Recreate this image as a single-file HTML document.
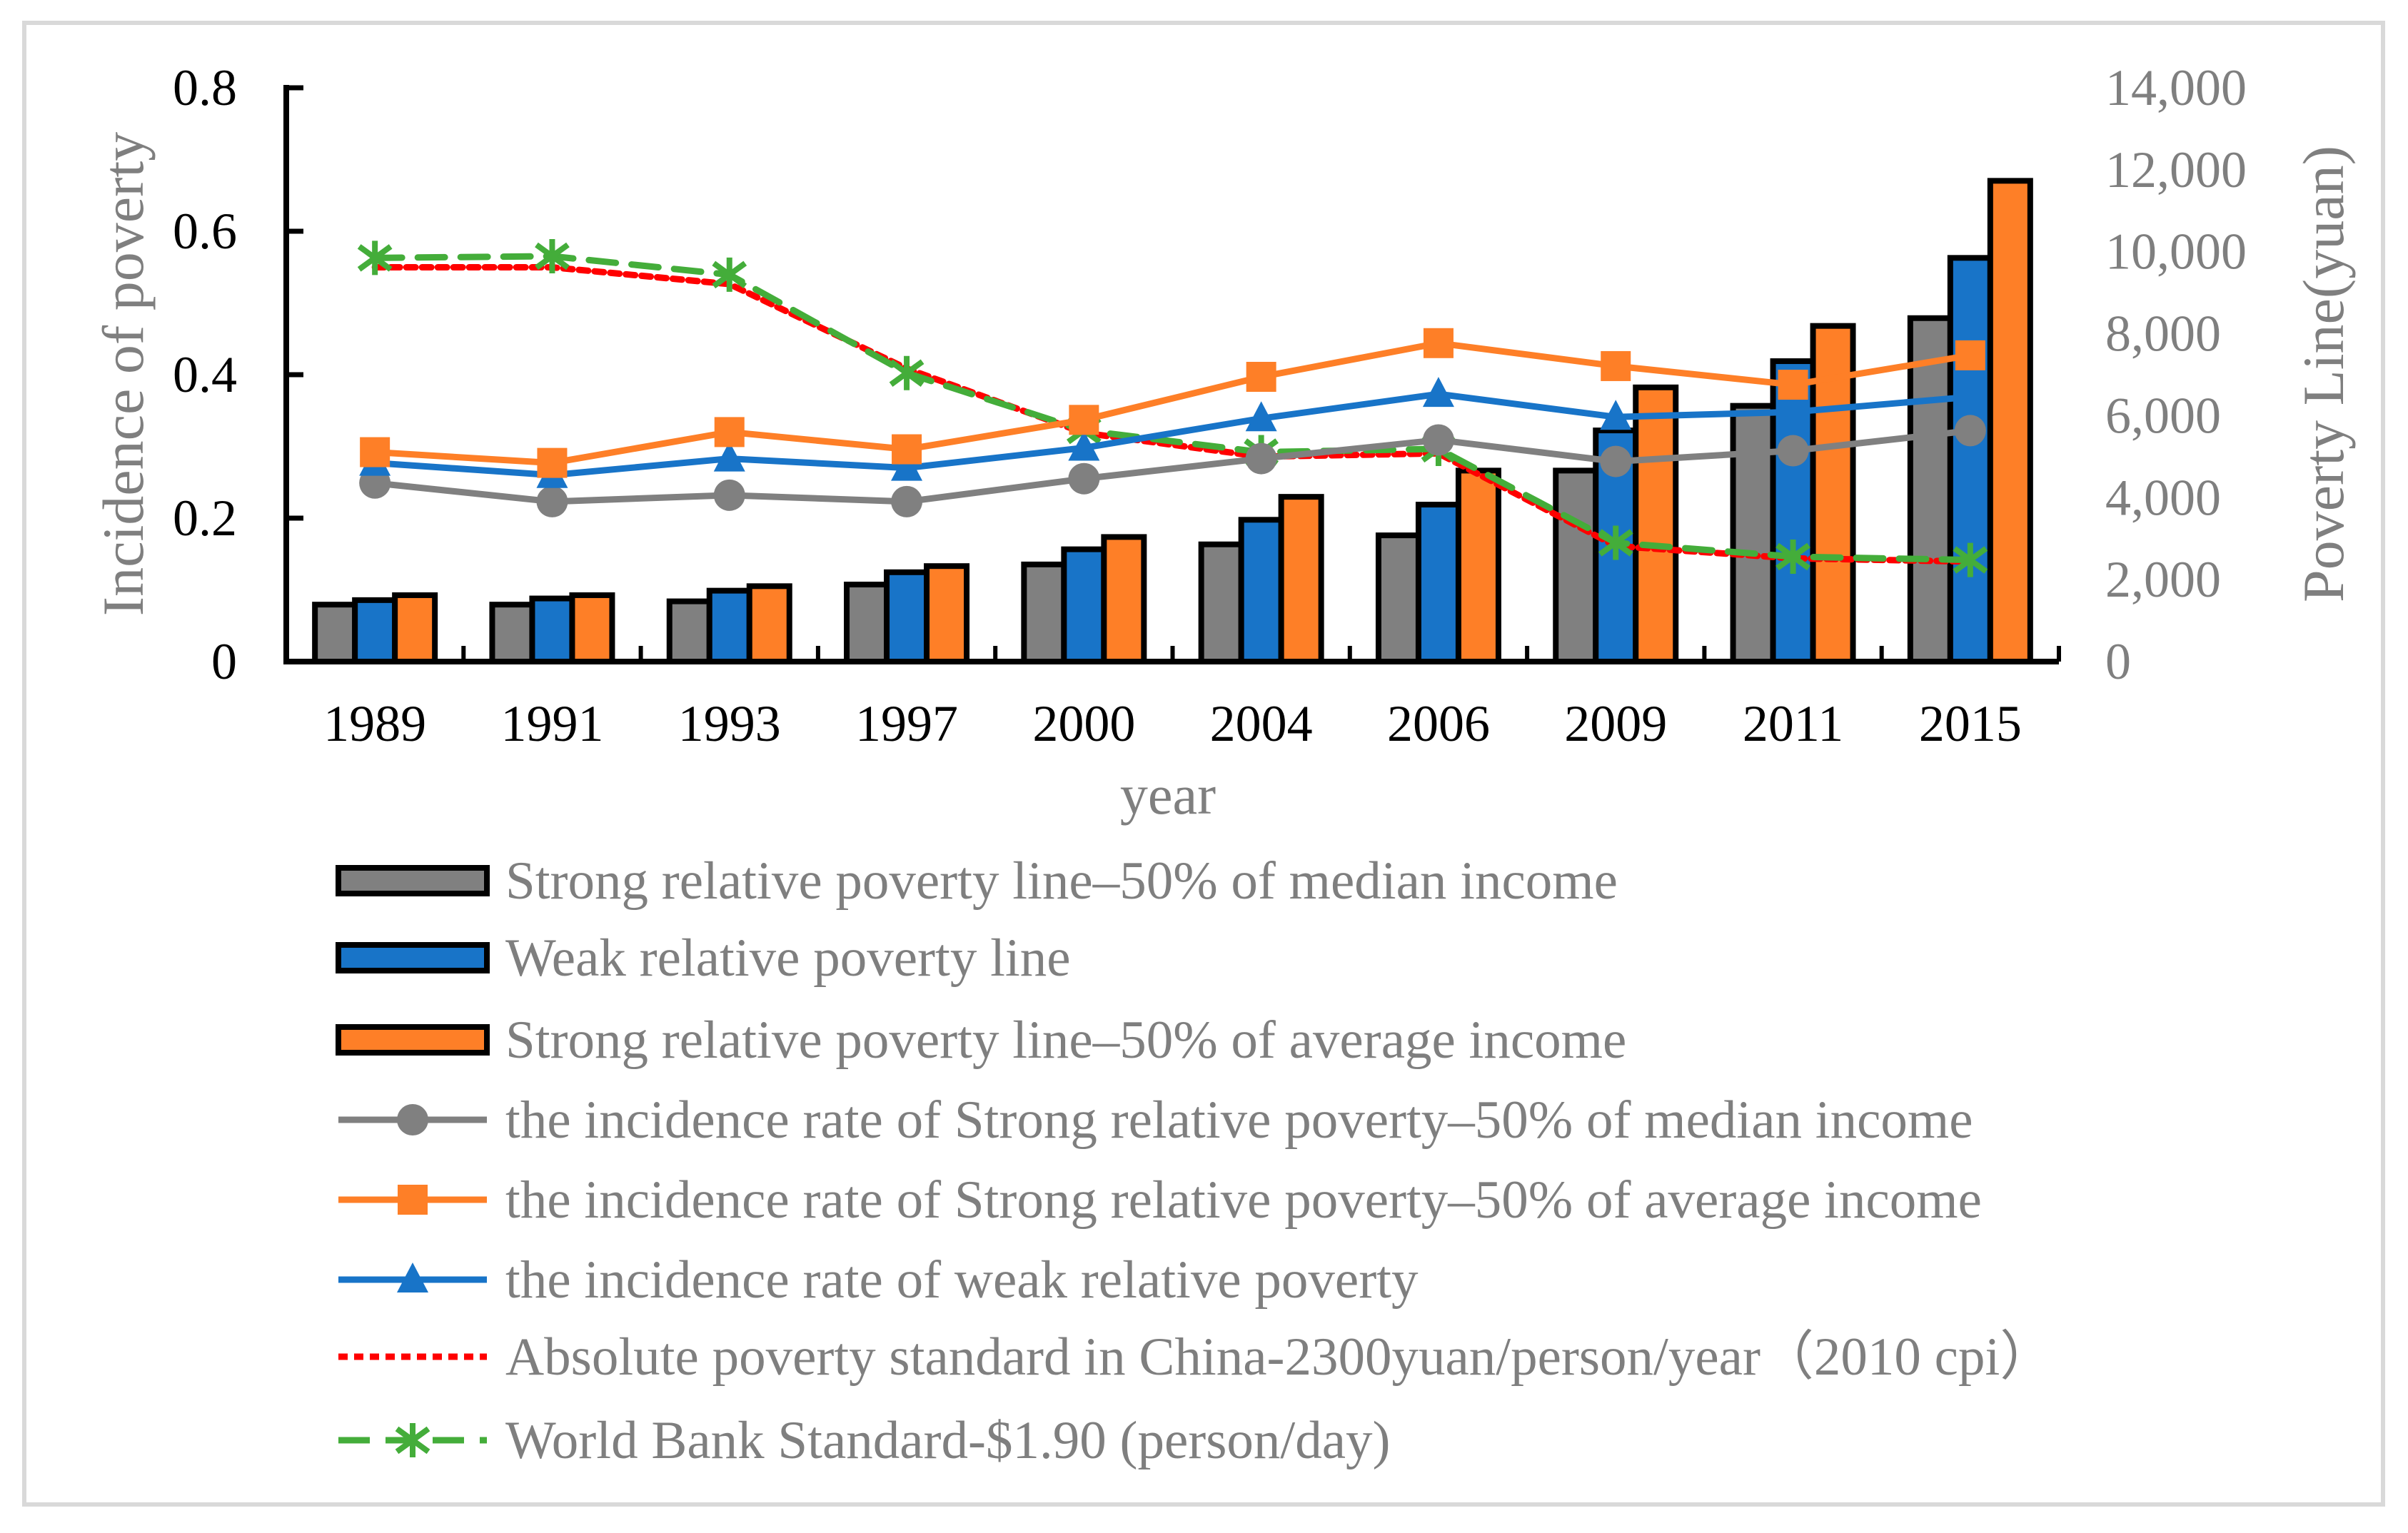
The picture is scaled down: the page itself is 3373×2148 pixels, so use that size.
<!DOCTYPE html>
<html><head><meta charset="utf-8"><style>
html,body{margin:0;padding:0;background:#fff;}
svg{display:block;font-family:"Liberation Serif",serif;}
</style></head><body>
<svg id="chart" width="3373" height="2148" viewBox="0 0 3373 2148" xmlns="http://www.w3.org/2000/svg">
<rect x="34" y="32" width="3304" height="2076" fill="#fff" stroke="#d9d9d9" stroke-width="6"/>
<g id="plot"></g>
<g id="legend"></g>
</svg>
<script>
const years = ['1989','1991','1993','1997','2000','2004','2006','2009','2011','2015'];
const barMedian = [1390,1390,1470,1880,2370,2860,3080,4660,6240,8380];
const barWeak = [1500,1540,1730,2180,2740,3460,3830,5640,7330,9850];
const barAverage = [1620,1620,1840,2330,3040,4020,4660,6690,8190,11730];
const rateMedian = [0.249,0.223,0.232,0.223,0.255,0.283,0.309,0.279,0.294,0.322];
const rateAverage = [0.292,0.277,0.320,0.296,0.337,0.397,0.444,0.412,0.386,0.427];
const rateWeak = [0.277,0.260,0.283,0.270,0.298,0.339,0.373,0.341,0.348,0.369];
const absChina = [9620,9620,9210,7150,5580,5000,5080,2820,2520,2440];
const worldBank = [9850,9890,9440,7040,5640,5110,5190,2900,2560,2480];
const leftTicks = [0,0.2,0.4,0.6,0.8];
const leftTickLabels = ['0','0.2','0.4','0.6','0.8'];
const rightTicks = [0,2000,4000,6000,8000,10000,12000,14000];
const rightTickLabels = ['0','2,000','4,000','6,000','8,000','10,000','12,000','14,000'];

const NS='http://www.w3.org/2000/svg';
const X0=401,X1=2884,YT=123,YB=927;
const band=(X1-X0)/years.length;
const xc=i=>X0+band*(i+0.5);
const yL=v=>YB-(v/0.8)*(YB-YT);
const yR=v=>YB-(v/14000)*(YB-YT);
function mk(tag,attrs,parent){const e=document.createElementNS(NS,tag);for(const k in attrs)e.setAttribute(k,attrs[k]);parent.appendChild(e);return e;}
const plot=document.getElementById('plot');
const GRAY='#808080',BLUE='#1874c8',ORANGE='#fe7f27',RED='#ff0000',GREEN='#44ad3a',TXT='#7f7f7f';

// bars
const BW=56;
[[barMedian,GRAY,'bar-median'],[barWeak,BLUE,'bar-weak'],[barAverage,ORANGE,'bar-average']].forEach((s,k)=>{
  s[0].forEach((v,i)=>{
    const x=xc(i)-1.5*BW+k*BW;
    const r=mk('rect',{x:x,y:yR(v),width:BW,height:YB-yR(v),fill:s[1],stroke:'#000','stroke-width':8},plot);
    
    
  });
});

// axes
let a=mk('line',{x1:X0,y1:YT-4,x2:X0,y2:YB+4,stroke:'#000','stroke-width':8},plot);

a=mk('line',{x1:X0-4,y1:YB,x2:X1,y2:YB,stroke:'#000','stroke-width':8},plot);

for(let i=1;i<=years.length;i++){
  const t=mk('line',{x1:X0+band*i,y1:YB,x2:X0+band*i,y2:YB-22,stroke:'#000','stroke-width':6},plot);
  
}
leftTicks.forEach((v,i)=>{
  const t=mk('line',{x1:X0,y1:yL(v),x2:X0+24,y2:yL(v),stroke:'#000','stroke-width':7},plot);
  
  const l=mk('text',{x:332,y:yL(v)+24,'text-anchor':'end','font-size':72,fill:'#000'},plot);
  l.textContent=leftTickLabels[i];
  
});
rightTicks.forEach((v,i)=>{
  const l=mk('text',{x:2949,y:yR(v)+24,'font-size':72,fill:TXT},plot);
  l.textContent=rightTickLabels[i];
  
});
years.forEach((y,i)=>{
  const l=mk('text',{x:xc(i),y:1038,'text-anchor':'middle','font-size':72,fill:'#000'},plot);
  l.textContent=y;
  
});
let t=mk('text',{x:1636,y:1140,'text-anchor':'middle','font-size':78,fill:TXT},plot);t.textContent='year';

t=mk('text',{x:0,y:0,'text-anchor':'middle','font-size':82,fill:TXT,transform:'translate(200,524) rotate(-90)'},plot);t.textContent='Incidence of poverty';

t=mk('text',{x:0,y:0,'text-anchor':'middle','font-size':82,fill:TXT,transform:'translate(3282,524) rotate(-90)'},plot);t.textContent='Poverty Line(yuan)';


function pts(arr,f){return arr.map((v,i)=>xc(i)+','+f(v)).join(' ');}
function circle(cx,cy,p,c){return mk('ellipse',{cx:cx,cy:cy,rx:22,ry:22,fill:c},p);}
function square(cx,cy,p,c){return mk('rect',{x:cx-21,y:cy-21,width:42,height:42,fill:c},p);}
function tri(cx,cy,p,c){return mk('polygon',{points:`${cx},${cy-24} ${cx-22},${cy+18} ${cx+22},${cy+18}`,fill:c},p);}
function star(cx,cy,p,c){const g=mk('g',{stroke:c,'stroke-width':8},p);
  mk('line',{x1:cx,y1:cy-24,x2:cx,y2:cy+24},g);mk('line',{x1:cx-22,y1:cy-16,x2:cx+22,y2:cy+16},g);mk('line',{x1:cx-22,y1:cy+16,x2:cx+22,y2:cy-16},g);return g;}

// lines
const lineSeries=[
  [absChina,yR,RED,'13,9',null,'line-china-absolute'],
  [worldBank,yR,GREEN,'38,22',star,'line-world-bank'],
  [rateMedian,yL,GRAY,null,circle,'line-rate-median'],
  [rateWeak,yL,BLUE,null,tri,'line-rate-weak'],
  [rateAverage,yL,ORANGE,null,square,'line-rate-average'],
];
lineSeries.forEach(s=>{
  const g=mk('g',{},plot);
  
  const pl=mk('polyline',{points:pts(s[0],s[1]),fill:'none',stroke:s[2],'stroke-width':9,'stroke-linecap':'round','stroke-linejoin':'round'},g);
  if(s[3])pl.setAttribute('stroke-dasharray',s[3]);
  if(s[4])s[0].forEach((v,i)=>{const m=s[4](xc(i),s[1](v),g,s[2]);
    });
});

// legend
const legendLabels=['Strong relative poverty line–50% of median income','Weak relative poverty line','Strong relative poverty line–50% of average income','the incidence rate of Strong relative poverty–50% of median income','the incidence rate of Strong relative poverty–50% of average income','the incidence rate of weak relative poverty','Absolute poverty standard in China-2300yuan/person/year（2010 cpi）','World Bank Standard-$1.90 (person/day)'];
const legRowY=[1234,1342,1457,1569,1681,1793,1901,2018];
const lg=document.getElementById('legend');
legendLabels.forEach((lab,i)=>{
  const g=mk('g',{},lg);
  
  const y=legRowY[i],x0=474,x1=682,cx=578;
  if(i<3){mk('rect',{x:x0,y:y-18,width:x1-x0,height:36,fill:[GRAY,BLUE,ORANGE][i],stroke:'#000','stroke-width':8},g);}
  else if(i<6){const c=[GRAY,ORANGE,BLUE][i-3];mk('line',{x1:x0,y1:y,x2:x1,y2:y,stroke:c,'stroke-width':9},g);[circle,square,tri][i-3](cx,y,g,c);}
  else if(i==6){mk('line',{x1:x0,y1:y,x2:x1,y2:y,stroke:RED,'stroke-width':9,'stroke-dasharray':'13,9'},g);}
  else {mk('line',{x1:x0,y1:y,x2:x1,y2:y,stroke:GREEN,'stroke-width':9,'stroke-dasharray':'44,22'},g);star(cx,y,g,GREEN);}
  const tx=mk('text',{x:708,y:y+25,'font-size':75,fill:TXT},g);tx.textContent=lab;
});
</script>
</body></html>
